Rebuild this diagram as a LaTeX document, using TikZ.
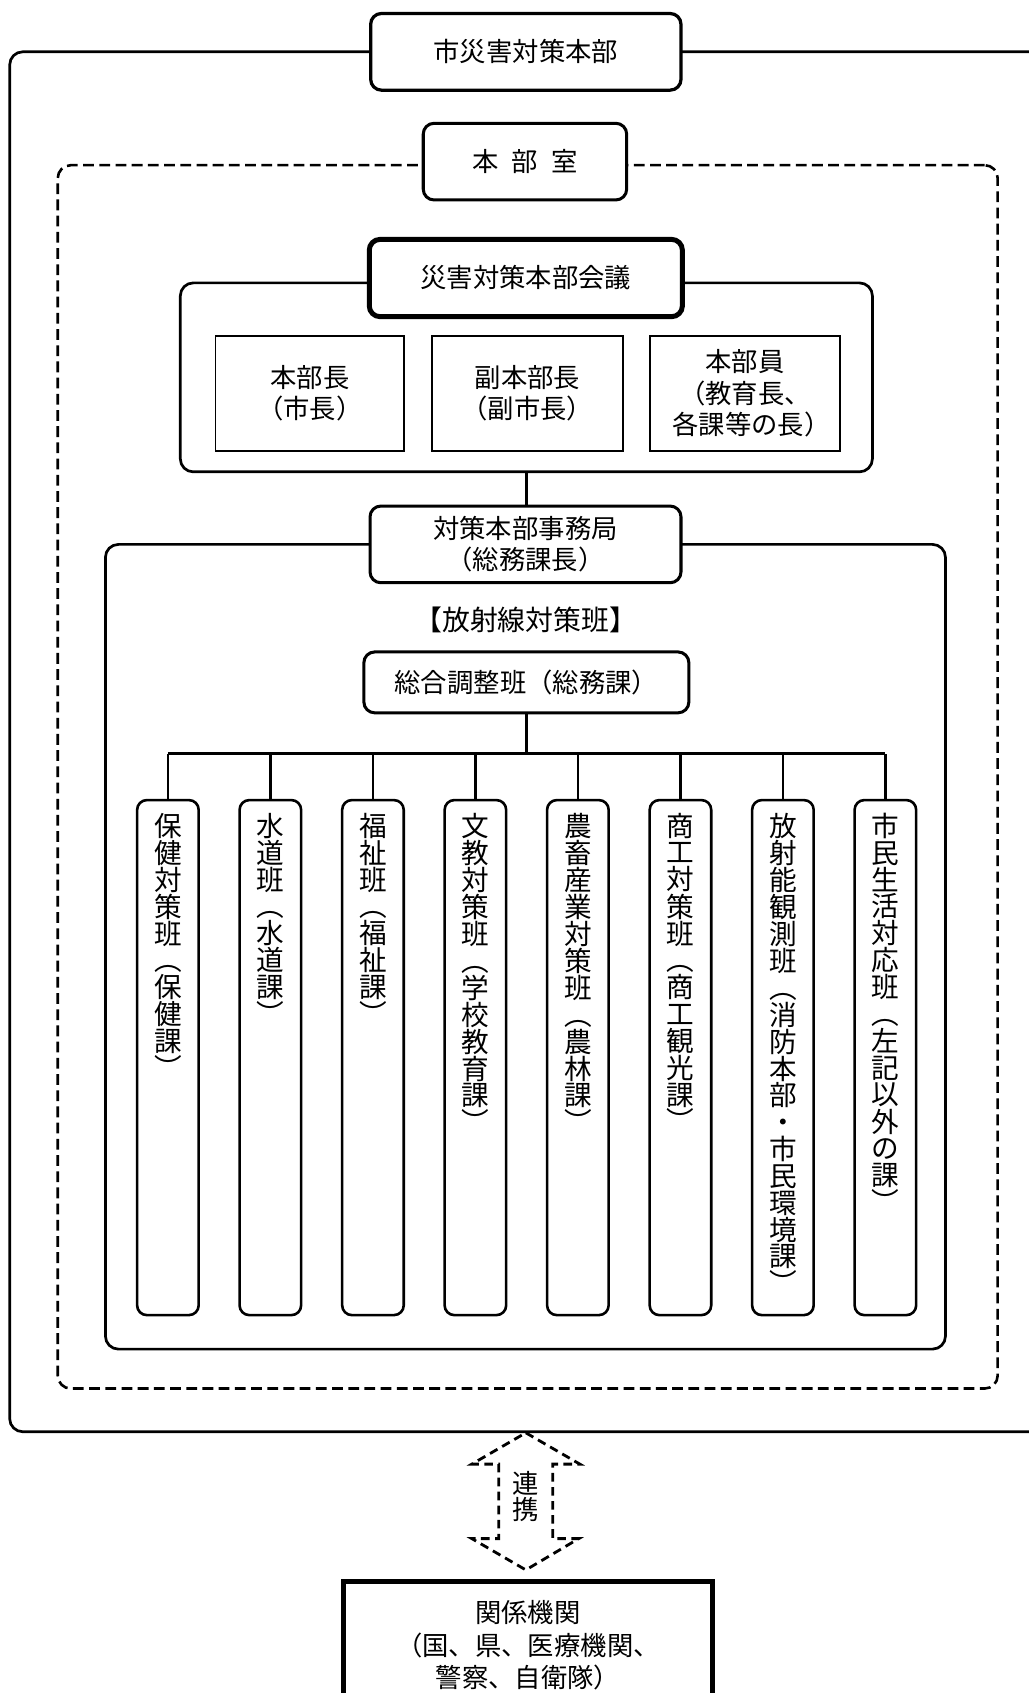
\documentclass[tikz,border=0pt]{standalone}
\usepackage{fontspec}
\setmainfont{Noto Sans CJK JP}
\newfontfamily\jph[RawFeature={+halt}]{Noto Sans CJK JP}
\newcommand\mainsz{\fontsize{12.2}{14.5}\selectfont}
\newcommand\vsz{\fontsize{12.8}{12.35}\selectfont}
\newcommand\vcell[1]{\hbox to 12.8pt{\hss\vrule width 0pt height 10.6pt depth 1.75pt\relax #1\hss}}
\newcommand\vtloop[1]{\ifx\relax#1\else\vcell{#1}\expandafter\vtloop\fi}
\newcommand\vtext[1]{\vbox{\offinterlineskip\vtloop#1\relax}}
\begin{document}
\begin{tikzpicture}[x=0.5pt,y=-0.5pt,
  every node/.style={inner sep=0pt, outer sep=0pt, font=\mainsz},
  frame/.style={draw, line width=1.25pt, rounded corners=6pt},
  dframe/.style={draw, line width=1.2pt, rounded corners=6pt, dash pattern=on 5pt off 2.5pt},
  titlebox/.style={draw, fill=white, line width=1.5pt, rounded corners=5pt, align=center},
  memberbox/.style={draw, line width=0.9pt, minimum height=53.25pt, align=center, font=\jph\mainsz},
  teambox/.style={draw, line width=1.2pt, rounded corners=4.5pt, minimum width=28.5pt, minimum height=238.5pt},
  vlabel/.style={anchor=north, font=\vsz},
  conn/.style={line width=1.2pt},
  linkarrow/.style={line width=1.3pt, dash pattern=on 4pt off 2.5pt, line join=miter},
]
\useasboundingbox (0,0) rectangle (953,1568);

% containers
\node[frame, minimum width=478pt, minimum height=639pt] (outer) at (487,687) {};
\node[dframe, minimum width=435.25pt, minimum height=566.5pt] (roomarea) at (488.75,719.5) {};
\node[frame, minimum width=320.5pt, minimum height=87.5pt] (confarea) at (487.5,349.5) {};
\node[frame, minimum width=389pt, minimum height=372.65pt] (teamarea) at (486.65,876.85) {};

% titles
\node[titlebox, minimum width=143.7pt, minimum height=35.5pt] (hq) at (487,48) {市災害対策本部};
\node[titlebox, line width=1.4pt, minimum width=94.2pt, minimum height=35.5pt] (room) at (486.2,149.7) {本\hspace{0.5em}部\hspace{0.5em}室};
\node[titlebox, line width=2.3pt, minimum width=145pt, minimum height=35.8pt] (conf) at (487,257.5) {災害対策本部会議};

% members
\node[memberbox, minimum width=87.5pt] (m1) at (287.1,364.2) {本部長\\（市長）};
\node[memberbox, minimum width=88.2pt] (m2) at (488.5,364.2) {副本部長\\（副市長）};
\node[memberbox, minimum width=88pt] (m3) at (690,364.2) {本部員\\（教育長、\\各課等の長）};

% secretariat
\node[titlebox, line width=1.4pt, minimum width=144pt, minimum height=35.5pt, font=\jph\mainsz] (sec) at (486.7,504.2) {対策本部事務局\\（総務課長）};
\draw[conn] (confarea.south) -- (confarea.south |- sec.north);

\node[font=\fontsize{12.9}{15}\selectfont] (label) at (487,574) {【放射線対策班】};
\node[titlebox, line width=1.4pt, minimum width=150.5pt, minimum height=28.2pt] (coord) at (487.5,632) {総合調整班（総務課）};

\coordinate (bus) at (487.5,698);
\draw[conn] (coord.south) -- (bus);

% teams
\node[teambox] (t1) at (155.5,979.5) {};
\node[teambox] (t2) at (250.4,979.5) {};
\node[teambox] (t3) at (345.4,979.5) {};
\node[teambox] (t4) at (440.3,979.5) {};
\node[teambox] (t5) at (535.2,979.5) {};
\node[teambox] (t6) at (630.2,979.5) {};
\node[teambox] (t7) at (725.1,979.5) {};
\node[teambox] (t8) at (820.0,979.5) {};

\node[vlabel] (v1) at (155.5,753) {\vtext{保健対策班︵保健課︶}};
\node[vlabel] (v2) at (250.4,753) {\vtext{水道班︵水道課︶}};
\node[vlabel] (v3) at (345.4,753) {\vtext{福祉班︵福祉課︶}};
\node[vlabel] (v4) at (440.3,753) {\vtext{文教対策班︵学校教育課︶}};
\node[vlabel] (v5) at (535.2,753) {\vtext{農畜産業対策班︵農林課︶}};
\node[vlabel] (v6) at (630.2,753) {\vtext{商工対策班︵商工観光課︶}};
\node[vlabel] (v7) at (725.1,753) {\vtext{放射能観測班︵消防本部・市民環境課︶}};
\node[vlabel] (v8) at (820.0,753) {\vtext{市民生活対応班︵左記以外の課︶}};

\draw[conn] (t1.north |- bus) -- (t8.north |- bus);
\foreach \t in {t1,t2,t3,t4,t5,t6,t7,t8}{
  \draw[conn] (\t.north) -- (\t.north |- bus);
}

% link arrow
\draw[linkarrow] (487,1327) -- (537,1356) -- (512,1356) -- (512,1425) -- (536,1425) -- (487,1454) -- (437,1425) -- (462,1425) -- (462,1356) -- (437,1356) -- cycle;
\node[font=\fontsize{12.2}{12.4}\selectfont, align=center] (renkei) at (487,1386) {連\\携};

% agencies
\node[draw, line width=2.4pt, minimum width=171pt, minimum height=59pt, align=center, font=\fontsize{12.2}{15}\selectfont] (agency) at (489,1524) {関係機関\\（国、県、医療機関、\\警察、自衛隊）};
\end{tikzpicture}
\end{document}
